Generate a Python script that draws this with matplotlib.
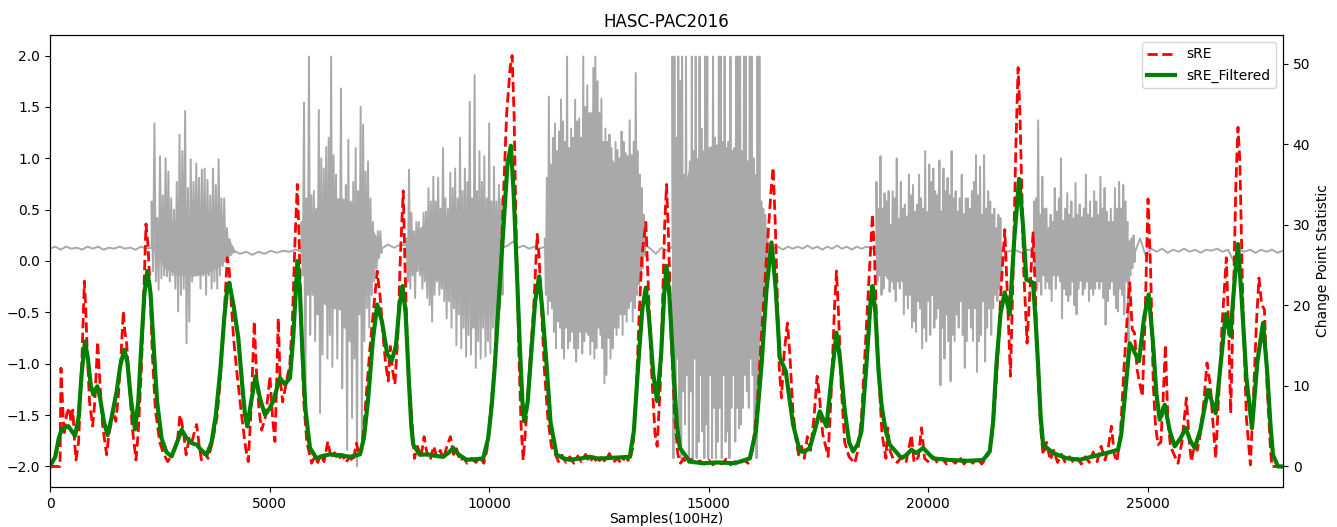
import matplotlib
matplotlib.use("Agg")
import matplotlib.pyplot as plt
import numpy as np

# ---- accelerometer signal (left axis) ----
# quiet stretches: (start, end) in samples and the baseline values along them
quiet_edges = [(0, 2315), (4190, 5730), (7552, 8122), (10307, 11271),
               (13548, 14178), (16356, 18823), (21669, 22412), (24705, 28083)]
quiet0 = [0.12, 0.14, 0.11, 0.14, 0.12, 0.13, 0.11, 0.14, 0.12, 0.14, 0.11, 0.13, 0.12, 0.14,
          0.12, 0.13, 0.11, 0.14, 0.12, 0.13]
quiet1 = [0.10, 0.07, 0.09, 0.06, 0.09, 0.07, 0.10, 0.08, 0.10, 0.09, 0.11, 0.09]
quiet2 = [0.12, 0.16, 0.13, 0.16, 0.15]
quiet3 = [0.13, 0.15, 0.19, 0.13, 0.15, 0.12, 0.14, 0.12, 0.14]
quiet4 = [0.16, 0.12, 0.07, 0.13, 0.10, 0.14]
quiet5 = [0.15, 0.12, 0.14, 0.11, 0.14, 0.12, 0.14, 0.12, 0.15, 0.12, 0.14, 0.11, 0.14, 0.12,
          0.15, 0.12, 0.14, 0.11, 0.14, 0.12, 0.14, 0.12, 0.13]
quiet6 = [0.12, 0.09, 0.11, 0.08, 0.11, 0.10]
quiet7 = [0.08, 0.22, 0.05, 0.12, 0.09, 0.12, 0.08, 0.11, 0.09, 0.12, 0.09, 0.11, 0.08, 0.11,
          0.10, 0.12, 0.09, 0.11, 0.00, 0.11, 0.09, 0.11, 0.08, 0.11, 0.09, 0.11, 0.08, 0.10]

# active stretches: spike tops / bottoms and the dense core band
seg_edges = [(2315, 4190), (5730, 7552), (8122, 10307), (11271, 13548),
             (14178, 16356), (18823, 21669), (22412, 24705)]
seg1_top = [0.58, 1.34, 0.42, 1.02, 0.64, 1.00, 0.87, 0.61, 0.50, 0.77, 1.23, 1.07, 1.46, 0.71,
            0.99, 0.77, 0.95, 0.81, 0.89, 0.90, 0.79, 0.64, 0.90, 0.74, 0.99, 0.61, 0.61, 0.32,
            0.21, 0.11]
seg1_bot = [-0.10, -0.20, -0.28, -0.17, -0.14, -0.15, -0.20, -0.14, -0.27, -0.49, -0.33, -0.27,
            -0.80, -0.59, -0.20, -0.10, -0.14, -0.27, -0.14, -0.33, -0.14, -0.27, -0.20, -0.27,
            -0.14, -0.05, 0.00, 0.04, 0.06, 0.08]
seg2_top = [0.38, 1.54, 0.61, 1.99, 0.64, 0.68, 0.51, 1.47, 1.00, 0.90, 1.11, 1.20, 1.99, 1.03,
            0.84, 0.48, 1.68, 0.35, 0.74, 1.18, 0.58, 0.77, 1.10, 0.68, 1.50, 1.33, 0.87, 0.97,
            0.61, 0.38, 0.22, 0.29, 0.29]
seg2_bot = [-0.14, -1.55, -0.33, -0.72, -0.33, -0.78, -0.52, -1.48, -0.91, -0.39, -0.95, -0.72,
            -1.03, -0.33, -0.95, -0.46, -1.24, -0.65, -1.84, -0.78, -1.53, -0.95, -2.00, -0.52,
            -1.76, -0.78, -0.46, -0.65, -0.33, -0.20, -0.07, 0.03, 0.08]
seg3_top = [0.22, 0.89, 0.47, 0.29, 0.38, 0.38, 0.32, 0.47, 0.48, 0.71, 0.58, 0.82, 0.58, 0.81,
            0.51, 1.10, 0.61, 0.51, 0.86, 0.71, 0.90, 0.61, 1.20, 0.68, 0.90, 0.77, 1.55, 0.61,
            1.81, 0.68, 1.07, 0.77, 1.02, 0.61, 1.34, 0.58, 0.92, 0.58, 0.74, 0.61]
seg3_bot = [-0.20, -0.27, -0.14, -0.36, -0.10, -0.14, -0.27, -0.20, -0.36, -0.43, -0.59, -0.33,
            -0.20, -0.33, -0.27, -0.39, -0.56, -0.39, -0.65, -0.46, -0.82, -0.52, -0.85, -0.65,
            -0.93, -0.72, -0.91, -0.65, -1.04, -0.78, -0.95, -0.65, -0.93, -0.78, -0.90, -0.65,
            -0.72, -0.56, -0.46, -0.33]
seg4_top = [0.22, 0.81, 1.60, 0.94, 1.20, 1.34, 1.07, 1.26, 1.57, 1.36, 1.16, 1.99, 1.10, 1.29,
            1.20, 1.57, 1.36, 1.39, 1.20, 1.99, 1.50, 1.71, 1.44, 1.44, 1.88, 1.99, 1.75, 1.44,
            1.58, 1.16, 1.29, 1.16, 1.23, 1.10, 0.95, 1.16, 1.08, 1.00, 1.26, 1.16, 1.05, 1.02,
            1.37, 1.03, 1.16, 1.83, 1.07, 0.84, 0.71, 0.45]
seg4_bot = [-0.33, -0.52, -0.39, -0.46, -0.69, -0.85, -0.59, -0.65, -0.85, -0.95, -0.65, -0.85,
            -0.78, -0.69, -0.85, -0.98, -0.85, -0.69, -0.90, -0.78, -0.69, -0.72, -0.91, -0.78,
            -0.95, -0.85, -0.65, -0.72, -0.85, -1.19, -1.11, -0.75, -0.95, -0.85, -0.65, -0.72,
            -0.65, -0.52, -0.72, -0.52, -0.59, -0.46, -0.39, -0.59, -0.46, -0.33, -0.23, -0.14,
            -0.07, 0.05]
seg5_top = [1.99, 1.99, 1.20, 1.99, 1.75, 1.99, 0.84, 1.99, 0.77, 0.97, 1.99, 1.07, 1.99, 0.90,
            1.99, 1.29, 1.00, 1.99, 1.99, 1.07, 0.90, 1.99, 1.20, 1.03, 1.99, 1.99, 1.16, 1.99,
            1.00, 1.16, 1.99, 1.07, 1.10, 1.99, 1.99, 1.99, 1.07, 1.99, 1.99, 0.97, 1.99, 1.99,
            1.00, 0.84, 1.99, 1.99, 0.58, 0.51, 0.45, 0.32]
seg5_bot = [-1.92, -1.43, -0.95, -1.66, -1.92, -1.27, -1.59, -1.11, -1.92, -1.27, -1.95, -0.95,
            -1.92, -1.76, -1.11, -1.66, -1.92, -1.59, -1.92, -1.11, -1.92, -1.43, -1.92, -1.76,
            -1.43, -1.92, -1.11, -1.76, -1.66, -1.92, -1.43, -1.11, -1.76, -1.43, -1.63, -1.59,
            -1.43, -1.11, -1.27, -1.43, -0.95, -1.11, -1.66, -1.92, -1.11, -0.78, -0.46, -0.30,
            -0.15, 0.00]
seg6_top = [0.77, 0.51, 1.02, 0.51, 0.66, 0.58, 0.68, 0.35, 0.68, 0.61, 1.00, 0.38, 0.77, 0.51,
            0.55, 0.35, 0.84, 0.64, 0.74, 0.48, 0.55, 0.84, 0.61, 0.51, 1.07, 0.45, 0.94, 0.77,
            0.90, 0.68, 0.64, 0.98, 0.48, 0.90, 0.68, 0.81, 0.64, 1.07, 0.61, 0.68, 0.48, 0.61,
            0.84, 0.35, 0.61, 0.61, 0.51, 0.68, 0.77, 1.03, 0.64, 0.92, 0.45, 1.03, 0.51, 0.68,
            0.58, 0.45, 0.51, 0.32, 0.45, 0.42]
seg6_bot = [-0.20, -0.14, -0.33, -0.27, -0.14, -0.17, -0.30, -0.20, -0.27, -0.39, -0.20, -0.27,
            -0.14, -0.52, -0.33, -0.46, -0.33, -0.65, -0.59, -0.69, -0.39, -0.46, -0.85, -0.65,
            -0.78, -0.39, -0.72, -0.33, -0.65, -0.56, -0.46, -1.21, -0.65, -0.95, -0.52, -0.78,
            -1.17, -0.72, -0.78, -0.52, -0.65, -0.39, -0.72, -1.04, -0.78, -0.46, -0.65, -0.78,
            -0.46, -1.08, -0.78, -0.72, -0.39, -0.98, -0.65, -0.46, -0.72, -0.46, -0.33, -0.39,
            -0.27, -0.20]
seg7_top = [0.58, 0.61, 1.37, 0.45, 0.82, 0.51, 0.51, 0.32, 0.45, 0.38, 0.71, 0.48, 0.61, 1.00,
            0.38, 0.51, 0.66, 0.45, 0.58, 0.32, 0.76, 0.45, 0.55, 0.32, 0.51, 0.84, 0.45, 0.58,
            0.32, 0.68, 0.58, 0.45, 0.82, 0.51, 0.71, 0.48, 0.32, 0.51, 0.38, 0.71, 0.51, 0.77,
            0.51, 0.74, 0.58, 0.38, 0.19, 0.22, 0.25]
seg7_bot = [-0.14, -0.27, -0.20, -0.33, -0.14, -0.27, -0.20, -0.27, -0.39, -0.14, -0.27, -0.14,
            -0.20, -0.56, -0.27, -0.33, -0.39, -0.33, -0.20, -0.43, -0.52, -0.27, -0.14, -0.33,
            -0.27, -0.20, -0.39, -0.27, -0.33, -0.27, -0.14, -0.27, -0.20, -0.36, -0.62, -0.39,
            -0.27, -0.20, -0.33, -0.46, -0.49, -0.27, -0.33, -0.52, -0.20, -0.78, -0.14, -0.07,
            -0.01]
core_hi = [[0.13, 0.35, 0.42, 0.45, 0.42, 0.35, 0.13],
           [0.13, 0.50, 0.60, 0.62, 0.55, 0.40, 0.13],
           [0.14, 0.35, 0.42, 0.48, 0.50, 0.45, 0.14],
           [0.13, 0.80, 1.00, 1.05, 1.00, 0.75, 0.13],
           [0.13, 0.90, 1.10, 1.15, 1.05, 0.80, 0.13],
           [0.13, 0.42, 0.48, 0.50, 0.48, 0.42, 0.13],
           [0.12, 0.36, 0.42, 0.44, 0.42, 0.36, 0.12]]
core_lo = [[0.12, -0.08, -0.14, -0.15, -0.12, -0.05, 0.10],
           [0.12, -0.35, -0.45, -0.48, -0.40, -0.25, 0.12],
           [0.13, -0.12, -0.18, -0.26, -0.30, -0.25, 0.13],
           [0.12, -0.40, -0.50, -0.55, -0.50, -0.35, 0.12],
           [0.12, -0.85, -1.05, -1.10, -0.95, -0.70, 0.12],
           [0.12, -0.18, -0.26, -0.30, -0.28, -0.20, 0.12],
           [0.11, -0.12, -0.18, -0.20, -0.20, -0.15, 0.11]]

# ---- change point statistic (right axis) ----
sre_x = [0, 228, 250, 300, 319, 380, 440, 480, 520, 560, 592, 650, 720, 782, 810, 850, 900, 971,
         1020, 1085, 1130, 1200, 1290, 1340, 1404, 1450, 1500, 1560, 1620, 1670, 1700, 1746, 1800,
         1870, 1958, 2010, 2080, 2140, 2186, 2230, 2280, 2330, 2400, 2500, 2580, 2680, 2780, 2900,
         2960, 3000, 3050, 3100, 3170, 3230, 3300, 3340, 3400, 3450, 3520, 3600, 3700, 3800, 3871,
         3950, 4037, 4080, 4120, 4180, 4250, 4350, 4450, 4515, 4570, 4620, 4652, 4700, 4760, 4820,
         4900, 4960, 5009, 5070, 5123, 5160, 5199, 5240, 5300, 5350, 5400, 5460, 5520, 5580, 5632,
         5670, 5720, 5780, 5850, 5958, 6030, 6100, 6170, 6240, 6330, 6400, 6480, 6560, 6650, 6740,
         6830, 6900, 6980, 7040, 7100, 7150, 7220, 7287, 7380, 7453, 7520, 7590, 7640, 7703, 7750,
         7800, 7856, 7920, 7980, 8045, 8090, 8150, 8235, 8300, 8370, 8450, 8520, 8580, 8660, 8740,
         8810, 8890, 8960, 9040, 9120, 9190, 9260, 9340, 9420, 9500, 9600, 9700, 9800, 9880, 9950,
         10020, 10100, 10170, 10260, 10330, 10400, 10480, 10526, 10570, 10620, 10680, 10730, 10777,
         10850, 10930, 11020, 11096, 11140, 11190, 11260, 11340, 11420, 11500, 11580, 11660, 11750,
         11840, 11930, 12020, 12100, 12200, 12290, 12380, 12470, 12560, 12650, 12740, 12830, 12920,
         13010, 13100, 13200, 13280, 13350, 13420, 13480, 13571, 13630, 13700, 13780, 13829, 13900,
         13960, 14000, 14043, 14090, 14150, 14230, 14300, 14360, 14430, 14500, 14600, 14700, 14800,
         14900, 15000, 15100, 15200, 15300, 15400, 15500, 15600, 15700, 15800, 15900, 16000, 16100,
         16200, 16320, 16420, 16470, 16520, 16580, 16610, 16660, 16720, 16796, 16850, 16920, 17000,
         17050, 17120, 17180, 17250, 17320, 17400, 17472, 17520, 17600, 17723, 17800, 17870, 17913,
         17960, 18020, 18100, 18200, 18330, 18400, 18482, 18600, 18690, 18733, 18780, 18850, 18950,
         19040, 19080, 19130, 19200, 19300, 19400, 19500, 19620, 19680, 19780, 19850, 19920, 20020,
         20120, 20220, 20320, 20420, 20520, 20620, 20720, 20820, 20920, 21020, 21120, 21220, 21320,
         21420, 21500, 21580, 21660, 21746, 21800, 21876, 21940, 22000, 22050, 22090, 22130, 22180,
         22254, 22320, 22391, 22440, 22500, 22560, 22619, 22700, 22780, 22860, 22950, 23040, 23130,
         23220, 23310, 23400, 23490, 23580, 23670, 23760, 23850, 23940, 24030, 24100, 24175, 24240,
         24300, 24380, 24460, 24540, 24592, 24650, 24700, 24760, 24880, 24940, 25009, 25070, 25130,
         25180, 25237, 25300, 25350, 25405, 25460, 25520, 25600, 25693, 25780, 25883, 25950, 25997,
         26060, 26130, 26200, 26280, 26352, 26430, 26480, 26550, 26620, 26700, 26793, 26840, 26892,
         26950, 27010, 27058, 27100, 27170, 27250, 27340, 27420, 27480, 27536, 27600, 27660, 27720,
         27800, 27832, 28083]
sre_y = [0, 0, 12.2, 6, 3.9, 6.5, 7.3, 5.5, 7, 3, 0.8, 3, 12, 23.0, 20.1, 14, 8, 5.0,
         8, 15.5, 11, 5, 1.45, 4, 5.6, 7, 5.6, 9, 14, 19.3, 17, 15.2, 11,
         5, 0.8, 4.35, 12, 22, 30.1, 27.6, 22, 14, 7, 3, 1.66, 0.6, 1.5, 3,
         6.4, 5.5, 3.8, 1.45, 3.5, 3.0, 4.5, 5.2, 2.5, 0.8, 1.66, 1.0, 3, 6, 10.2,
         17, 25.9, 24.5, 21, 16, 12, 7, 2.5, 0.6, 6, 13, 18.0, 12, 7, 4.5,
         6, 8.5, 11.2, 6, 3.1, 10, 18.4, 11, 8, 9.5, 11, 12.5, 18, 28, 35.0,
         29, 18, 8, 3, 0.4, 1.2, 0.5, 1.5, 0.6, 3.1, 1.0, 1.7, 0.8, 1.5, 0.5,
         1.2, 0.6, 2.9, 1.4, 2, 5, 10, 14.7, 20, 24.25, 21, 16, 13, 10.6, 14.9,
         12, 10.2, 16, 26, 34.2, 24, 13, 6.4, 1.0, 2.5, 1.2, 3.7, 1.8, 0.8, 2.5,
         1.2, 2.0, 0.9, 2.5, 3.7, 1.5, 2.2, 0.7, 1.1, 0.4, 1.0, 0.5, 1.1, 0.4, 2,
         6, 11, 16.8, 24, 34, 43.7, 49.5, 51.0, 43.7, 28, 14, 5, 0.8,
         6, 13, 20, 28.8, 26, 20, 12, 6, 2.5, 1.66, 0.6, 1.4, 0.5,
         1.2, 0.4, 1.3, 0.6, 1.5, 0.5, 1.2, 0.4, 1.1, 0.6, 1.6, 0.5, 1.0,
         0.4, 1.2, 0.6, 2.5, 9, 19, 26, 30.3, 22, 12, 4, 2.5, 10,
         22, 30, 35.0, 28, 16, 6, 1.5, 0.4, 1.0, 0.3, 0.9, 0.2, 0.7,
         0.3, 0.8, 0.2, 0.7, 0.3, 0.9, 0.2, 0.6, 0.3, 0.8, 0.4, 2, 7,
         16, 26, 34, 37.1, 30, 18, 12.2, 8.5, 14, 17.8, 14, 7, 3,
         1.45, 2.5, 1.0, 3.7, 2.0, 6, 11.2, 9, 4, 1.24, 10, 20, 24.25,
         19, 10, 3, 1.2, 0.4, 2, 6, 18, 27, 31.3, 26, 14, 4,
         1.0, 4.8, 2, 1.0, 0.5, 1.2, 0.6, 3.9, 0.5, 1.2, 4.8, 1.0, 0.5,
         1.2, 0.4, 1.0, 0.3, 0.9, 0.4, 1.1, 0.3, 0.9, 0.4, 1.1, 0.3, 1.0,
         2, 6, 13, 22, 29.4, 22, 11.2, 25, 40, 49.5, 44.2, 35, 24,
         15.3, 22, 29.0, 22, 12, 5, 1.45, 3.0, 0.8, 2.0, 0.5, 1.5, 0.4,
         1.2, 0.5, 1.0, 0.3, 1.2, 0.5, 1.8, 0.6, 2.5, 0.8, 2.2, 5.0, 1.5,
         0.6, 4, 12, 19, 22.8, 17, 16.6, 12, 8.7, 18, 33.2, 24, 10,
         5, 2.7, 3, 8, 15.1, 6, 2.5, 1.5, 0.4, 3, 8.5, 3, 0.6,
         2.5, 2.0, 4, 8, 12.85, 10, 6, 1.0, 9, 18, 25.9, 18, 6.6,
         20, 35, 42.1, 38, 20, 6, 0.2, 10, 18, 23.4, 20.0, 19.5, 10,
         2, 0, 0]

filt_x = [0, 120, 200, 266, 417, 520, 570, 650, 720, 797, 860, 930, 987, 1040, 1078, 1140, 1230,
          1313, 1400, 1518, 1600, 1693, 1760, 1840, 1935, 2010, 2080, 2150, 2216, 2290, 2360, 2440,
          2540, 2650, 2770, 2880, 2998, 3100, 3226, 3340, 3450, 3568, 3680, 3780, 3880, 3970, 4040,
          4083, 4180, 4288, 4380, 4440, 4493, 4580, 4683, 4780, 4896, 5000, 5085, 5237, 5351, 5465,
          5540, 5600, 5640, 5690, 5750, 5820, 5920, 6072, 6200, 6377, 6603, 6831, 7059, 7150, 7248,
          7350, 7453, 7560, 7680, 7780, 7880, 7960, 8031, 8100, 8170, 8230, 8273, 8425, 8615, 8800,
          8957, 9080, 9184, 9300, 9488, 9700, 9867, 9980, 10060, 10133, 10220, 10322, 10420, 10497,
          10560, 10627, 10700, 10760, 10800, 10880, 10960, 11050, 11142, 11220, 11310, 11400, 11538,
          11700, 11841, 12100, 12297, 12450, 12601, 12900, 13207, 13300, 13397, 13490, 13571, 13650,
          13740, 13829, 13920, 13990, 14043, 14110, 14200, 14280, 14346, 14574, 14877, 15200, 15600,
          15940, 16080, 16206, 16320, 16433, 16530, 16622, 16759, 16840, 16925, 17077, 17200, 17305,
          17420, 17533, 17685, 17800, 17913, 18000, 18100, 18200, 18292, 18400, 18482, 18600, 18690,
          18733, 18800, 18870, 18938, 19030, 19127, 19393, 19500, 19621, 19735, 19886, 20114, 20493,
          20900, 21252, 21404, 21480, 21556, 21650, 21746, 21860, 21960, 22072, 22160, 22239, 22315,
          22391, 22450, 22505, 22560, 22619, 22847, 23150, 23453, 23757, 24060, 24326, 24400, 24478,
          24592, 24700, 24804, 24920, 25025, 25120, 25200, 25275, 25389, 25500, 25617, 25750, 25868,
          25970, 26072, 26200, 26375, 26550, 26650, 26778, 26884, 26980, 27058, 27140, 27250, 27377,
          27500, 27628, 27720, 27800, 27855, 27969, 28083]
filt_y = [0, 1.2, 3.5, 4.6, 5.0, 4.2, 3.8, 6, 11.5, 15.5, 13.5, 10, 8.9, 9.6, 9.95, 8.5, 5.5,
          3.9, 6, 9.3, 12.5, 14.5, 13, 8.5, 4.6, 8, 15, 21.5, 24.25, 21.5, 15, 8,
          3.5, 1.8, 1.24, 2.8, 4.56, 3.6, 2.9, 2.7, 2.0, 1.45, 3.0, 6.5, 12, 18.5, 22.3,
          22.8, 20, 15.96, 10, 6.5, 4.97, 8, 11.2, 8.5, 6.4, 7.2, 8.1, 11.0, 10.2, 11.0,
          16, 22, 25.5, 22, 14, 7, 2.3, 1.0, 1.3, 1.5, 1.4, 1.2, 1.5, 3.5, 8.5,
          15.5, 20.1, 18, 14, 13.06, 15, 20, 22.4, 19, 11, 5, 2.7, 1.45, 1.5, 1.3,
          1.2, 1.7, 2.3, 1.5, 0.83, 0.9, 1.0, 3.5, 7.5, 12.6, 20.5, 29.2, 37.5, 39.8,
          34, 25.1, 15, 8, 5.6, 8, 14, 20.5, 23.6, 19, 12.6, 5.5, 1.45,
          1.0, 0.83, 1.0, 1.2, 1.0, 1.0, 1.1, 1.2, 4.5, 12.6, 19.5, 22.2, 18,
          11.5, 8.1, 14, 21.5, 24.9, 21, 12, 5, 2.3, 0.6, 0.4, 0.5, 0.4,
          1.0, 4.5, 12.6, 22, 27.8, 22, 13.5, 11.8, 8.5, 5.2, 1.87, 1.9, 2.3,
          4.5, 6.84, 4.97, 11, 16.6, 13, 7, 3, 1.87, 2.8, 4.35, 13, 20.5,
          22.4, 19, 12, 7.67, 4.5, 2.7, 1.03, 1.4, 2.07, 1.66, 2.3, 1.0, 0.8,
          0.7, 0.8, 1.87, 5.5, 12.6, 19, 21.6, 18.9, 28, 35.7, 30, 23.2, 23.0,
          22.8, 18, 12.6, 6.5, 2.7, 1.66, 1.03, 0.83, 1.24, 1.66, 2.07, 4, 8.5,
          15.3, 14.2, 13.06, 18.5, 21.35, 15.5, 9, 5.8, 7.67, 4.5, 2.49, 3.5, 4.77,
          3.2, 2.3, 4.5, 9.5, 6.6, 12, 18.9, 16.2, 23, 27.6, 21, 11, 4.77,
          13, 17.8, 12, 5, 1.45, 0.0, 0.0]

quiet_vals = [quiet0, quiet1, quiet2, quiet3, quiet4, quiet5, quiet6, quiet7]
seg_tops = [seg1_top, seg2_top, seg3_top, seg4_top, seg5_top, seg6_top, seg7_top]
seg_bots = [seg1_bot, seg2_bot, seg3_bot, seg4_bot, seg5_bot, seg6_bot, seg7_bot]

# stitch the gray signal together: quiet, burst, quiet, burst ...
sig_x, sig_y = [], []
for i, (a, b) in enumerate(quiet_edges):
    sig_x.extend(np.linspace(a, b, len(quiet_vals[i])))
    sig_y.extend(quiet_vals[i])
    if i < len(seg_edges):
        s0, s1 = seg_edges[i]
        n = min(len(seg_tops[i]), len(seg_bots[i]))
        zig = np.empty(2 * n)
        zig[0::2] = seg_tops[i][:n]
        zig[1::2] = seg_bots[i][:n]
        sig_x.extend(np.linspace(s0, s1, 2 * n))
        sig_y.extend(zig)

fig = plt.figure(figsize=(13.37, 5.27), dpi=100)
ax = fig.add_axes([0.0374, 0.0759, 0.9222, 0.8577])
gray = 'darkgray'
for i, (s0, s1) in enumerate(seg_edges):
    cx = np.linspace(s0, s1, len(core_hi[i]))
    ax.fill_between(cx, core_lo[i], core_hi[i], color=gray, lw=0)
ax.plot(sig_x, sig_y, color=gray, lw=1.4)
ax.set_xlim(0, 28083)
ax.set_ylim(-2.2, 2.2)
ax.set_xlabel('Samples(100Hz)', labelpad=1)
ax.set_title('HASC-PAC2016')

ax2 = ax.twinx()
ax2.plot(sre_x, sre_y, 'r--', lw=2, label='sRE')
ax2.plot(filt_x, filt_y, color='g', lw=3, label='sRE_Filtered')
ax2.set_ylim(-2.55, 53.55)
ax2.set_ylabel('Change Point Statistic')
ax2.legend(loc='upper right')

fig.savefig('out.png', dpi=100)
